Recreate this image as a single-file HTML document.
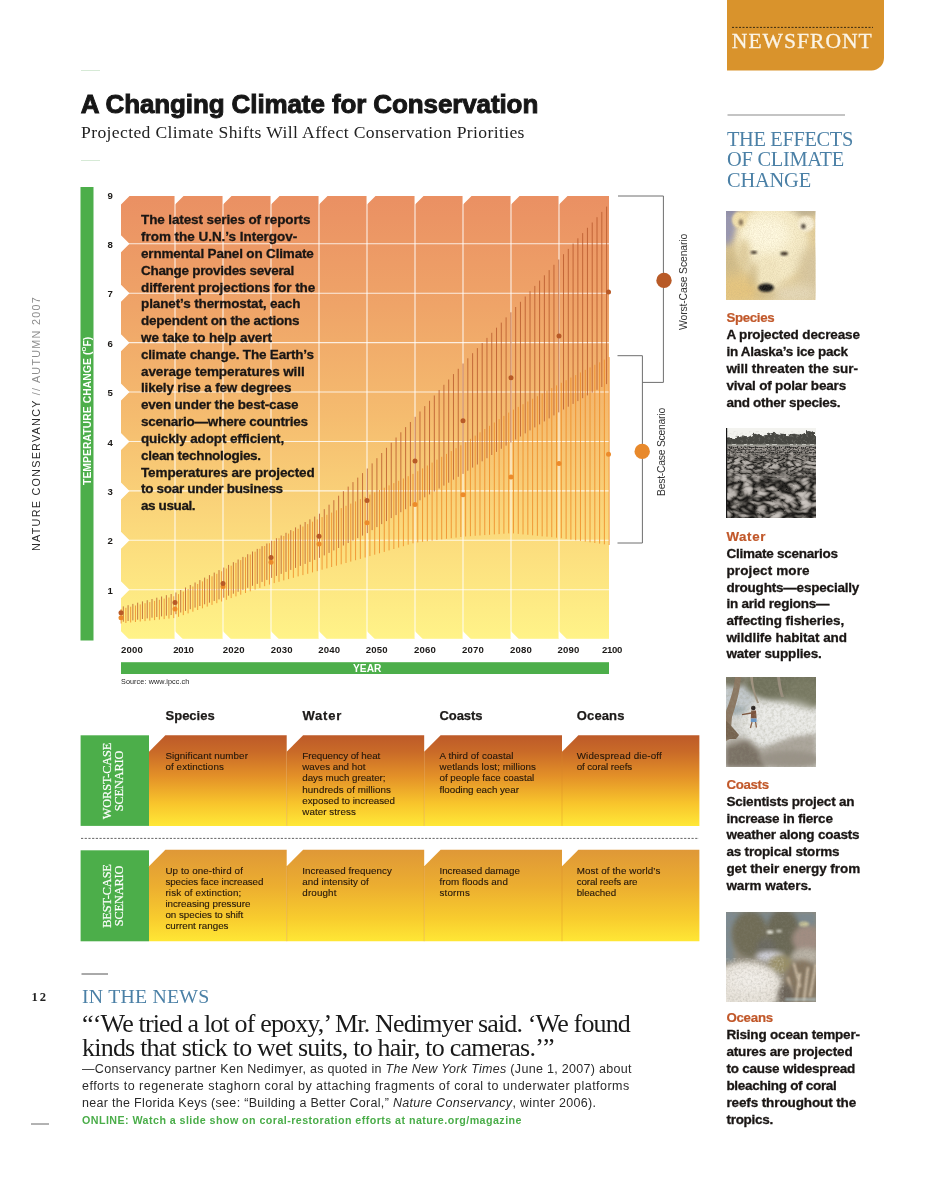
<!DOCTYPE html>
<html><head><meta charset="utf-8"><title>A Changing Climate for Conservation</title>
<style>
html,body{margin:0;padding:0;background:#fff;}
body{width:945px;height:1203px;position:relative;overflow:hidden;font-family:"Liberation Sans",sans-serif;}
.t{position:absolute;white-space:nowrap;line-height:1;margin:0;padding:0;}
.r{position:absolute;}
svg{position:absolute;left:0;top:0;}
</style></head><body>
<svg width="945" height="1203" viewBox="0 0 945 1203">
<defs>
<linearGradient id="cg" x1="0" y1="0" x2="0" y2="1">
<stop offset="0" stop-color="#ea9063"/><stop offset="0.25" stop-color="#efa468"/><stop offset="0.5" stop-color="#f5bc6f"/><stop offset="0.75" stop-color="#fbd97c"/><stop offset="1" stop-color="#fff388"/>
</linearGradient>
<linearGradient id="w1" x1="0" y1="0" x2="0" y2="1">
<stop offset="0" stop-color="#bd5a29"/><stop offset="0.18" stop-color="#c96a28"/><stop offset="0.45" stop-color="#e39028"/><stop offset="0.75" stop-color="#f8c42c"/><stop offset="1" stop-color="#ffe837"/>
</linearGradient>
<linearGradient id="b1" x1="0" y1="0" x2="0" y2="1">
<stop offset="0" stop-color="#df9837"/><stop offset="0.4" stop-color="#ecae30"/><stop offset="0.75" stop-color="#f8cc2e"/><stop offset="1" stop-color="#ffe735"/>
</linearGradient>
</defs>
<path d="M727 0H884V58A12.5 12.5 0 0 1 871.5 70.5H727Z" fill="#d9932c"/>
<line x1="732" y1="27.4" x2="873" y2="27.4" stroke="#3b2c12" stroke-width="1" stroke-dasharray="2 1.5"/>
<rect x="121.0" y="196.0" width="488.0" height="442.8" fill="url(#cg)"/>
<line x1="175.0" y1="196.0" x2="175.0" y2="638.8" stroke="#fff" stroke-opacity="0.85" stroke-width="1.1"/>
<line x1="223.0" y1="196.0" x2="223.0" y2="638.8" stroke="#fff" stroke-opacity="0.85" stroke-width="1.1"/>
<line x1="271.0" y1="196.0" x2="271.0" y2="638.8" stroke="#fff" stroke-opacity="0.85" stroke-width="1.1"/>
<line x1="319.0" y1="196.0" x2="319.0" y2="638.8" stroke="#fff" stroke-opacity="0.85" stroke-width="1.1"/>
<line x1="367.0" y1="196.0" x2="367.0" y2="638.8" stroke="#fff" stroke-opacity="0.85" stroke-width="1.1"/>
<line x1="415.0" y1="196.0" x2="415.0" y2="638.8" stroke="#fff" stroke-opacity="0.85" stroke-width="1.1"/>
<line x1="463.0" y1="196.0" x2="463.0" y2="638.8" stroke="#fff" stroke-opacity="0.85" stroke-width="1.1"/>
<line x1="511.0" y1="196.0" x2="511.0" y2="638.8" stroke="#fff" stroke-opacity="0.85" stroke-width="1.1"/>
<line x1="559.0" y1="196.0" x2="559.0" y2="638.8" stroke="#fff" stroke-opacity="0.85" stroke-width="1.1"/>
<line x1="121.0" y1="243.80" x2="609.0" y2="243.80" stroke="#fff" stroke-opacity="0.8" stroke-width="1.1"/>
<line x1="121.0" y1="293.22" x2="609.0" y2="293.22" stroke="#fff" stroke-opacity="0.8" stroke-width="1.1"/>
<line x1="121.0" y1="342.64" x2="609.0" y2="342.64" stroke="#fff" stroke-opacity="0.8" stroke-width="1.1"/>
<line x1="121.0" y1="392.06" x2="609.0" y2="392.06" stroke="#fff" stroke-opacity="0.8" stroke-width="1.1"/>
<line x1="121.0" y1="441.48" x2="609.0" y2="441.48" stroke="#fff" stroke-opacity="0.8" stroke-width="1.1"/>
<line x1="121.0" y1="490.90" x2="609.0" y2="490.90" stroke="#fff" stroke-opacity="0.8" stroke-width="1.1"/>
<line x1="121.0" y1="540.32" x2="609.0" y2="540.32" stroke="#fff" stroke-opacity="0.8" stroke-width="1.1"/>
<line x1="121.0" y1="589.74" x2="609.0" y2="589.74" stroke="#fff" stroke-opacity="0.8" stroke-width="1.1"/>
<path d="M121.0 195.5 h9.0 l-9.0 9.0zM175.0 195.5 h9.0 l-9.0 9.0zM223.0 195.5 h9.0 l-9.0 9.0zM271.0 195.5 h9.0 l-9.0 9.0zM319.0 195.5 h9.0 l-9.0 9.0zM367.0 195.5 h9.0 l-9.0 9.0zM415.0 195.5 h9.0 l-9.0 9.0zM463.0 195.5 h9.0 l-9.0 9.0zM511.0 195.5 h9.0 l-9.0 9.0zM559.0 195.5 h9.0 l-9.0 9.0zM121.0 639.3 h8.0 l-8.0 -8.0zM175.0 639.3 h8.0 l-8.0 -8.0zM223.0 639.3 h8.0 l-8.0 -8.0zM271.0 639.3 h8.0 l-8.0 -8.0zM319.0 639.3 h8.0 l-8.0 -8.0zM367.0 639.3 h8.0 l-8.0 -8.0zM415.0 639.3 h8.0 l-8.0 -8.0zM463.0 639.3 h8.0 l-8.0 -8.0zM511.0 639.3 h8.0 l-8.0 -8.0zM559.0 639.3 h8.0 l-8.0 -8.0zM120.5 234.80 v18.0 l9.0 -9.0 zM120.5 284.22 v18.0 l9.0 -9.0 zM120.5 333.64 v18.0 l9.0 -9.0 zM120.5 383.06 v18.0 l9.0 -9.0 zM120.5 432.48 v18.0 l9.0 -9.0 zM120.5 481.90 v18.0 l9.0 -9.0 zM120.5 531.32 v18.0 l9.0 -9.0 zM120.5 580.74 v18.0 l9.0 -9.0 z" fill="#fff"/>
<path d="M121.10 609.0V623.5M125.88 607.8V623.0M130.67 606.7V622.5M135.45 605.5V622.0M140.24 604.4V621.5M145.03 603.2V621.1M149.81 602.1V620.6M154.59 600.9V620.1M159.38 599.8V619.6M164.16 598.6V619.1M168.95 597.5V618.6M173.74 596.3V618.1M178.52 594.1V616.8M183.31 591.6V615.1M188.09 589.0V613.4M192.88 586.5V611.7M197.66 584.0V610.0M202.44 581.4V608.3M207.23 578.9V606.6M212.01 576.3V604.9M216.80 573.8V603.2M221.58 571.3V601.5M226.37 568.5V599.8M231.16 565.7V598.1M235.94 562.9V596.4M240.72 560.1V594.7M245.51 557.3V593.0M250.29 554.5V591.3M255.08 551.7V589.6M259.87 548.8V587.9M264.65 546.0V586.2M269.44 543.2V584.6M274.22 540.7V583.1M279.00 538.3V581.8M283.79 536.0V580.4M288.57 533.6V579.1M293.36 531.2V577.8M298.14 528.8V576.4M302.93 526.5V575.1M307.72 524.1V573.8M312.50 521.7V572.4M317.28 519.4V571.1M322.07 517.1V569.7M326.86 514.8V568.4M331.64 512.6V567.0M336.43 510.3V565.7M341.21 508.1V564.3M346.00 505.8V563.0M350.78 503.6V561.6M355.56 501.4V560.2M360.35 499.1V558.9M365.13 496.9V557.5M369.92 494.6V556.1M374.71 492.3V554.7M379.49 490.0V553.3M384.27 487.7V551.9M389.06 485.4V550.4M393.85 483.1V549.0M398.63 480.8V547.6M403.41 478.5V546.2M408.20 476.2V544.7M412.99 473.9V543.3M417.77 471.2V542.4M422.55 468.4V541.8M427.34 465.5V541.2M432.12 462.6V540.6M436.91 459.7V540.0M441.70 456.8V539.4M446.48 453.9V538.8M451.26 451.1V538.2M456.05 448.2V537.6M460.84 445.3V537.0M465.62 442.2V536.5M470.40 438.9V536.2M475.19 435.6V535.8M479.98 432.3V535.5M484.76 429.0V535.1M489.54 425.8V534.8M494.33 422.5V534.4M499.12 419.2V534.1M503.90 415.9V533.7M508.69 412.6V533.4M513.47 409.6V533.4M518.25 406.9V533.9M523.04 404.2V534.4M527.83 401.5V534.8M532.61 398.8V535.3M537.39 396.2V535.8M542.18 393.5V536.3M546.97 390.8V536.7M551.75 388.1V537.2M556.53 385.4V537.7M561.32 382.8V538.2M566.11 380.2V538.9M570.89 377.6V539.6M575.67 375.1V540.3M580.46 372.5V540.9M585.25 369.9V541.6M590.03 367.4V542.3M594.82 364.8V543.0M599.60 362.3V543.6M604.38 359.7V544.3M609.17 357.1V545.0" stroke="#ef8f2a" stroke-width="0.95" stroke-opacity="0.9" fill="none"/>
<path d="M123.30 606.4V621.7M128.09 605.2V621.0M132.87 603.9V620.4M137.66 602.7V619.7M142.44 601.4V619.0M147.22 600.2V618.4M152.01 599.0V617.7M156.80 597.7V617.0M161.58 596.5V616.4M166.37 595.2V615.7M171.15 594.0V615.0M175.94 592.5V614.2M180.72 590.0V612.5M185.50 587.5V610.9M190.29 585.0V609.2M195.07 582.5V607.6M199.86 580.1V606.0M204.64 577.6V604.3M209.43 575.1V602.7M214.22 572.6V601.0M219.00 570.1V599.4M223.78 567.6V597.7M228.57 564.9V595.7M233.36 562.2V593.7M238.14 559.5V591.8M242.93 556.9V589.8M247.71 554.2V587.8M252.50 551.5V585.8M257.28 548.9V583.9M262.06 546.2V581.9M266.85 543.5V579.9M271.63 540.8V577.9M276.42 538.2V575.9M281.20 535.5V573.9M285.99 532.8V571.9M290.77 530.1V569.9M295.56 527.4V567.9M300.35 524.7V565.9M305.13 522.0V563.9M309.92 519.3V561.9M314.70 516.6V559.9M319.49 513.7V557.8M324.27 509.2V555.4M329.06 504.7V552.9M333.84 500.2V550.4M338.62 495.7V548.0M343.41 491.2V545.5M348.19 486.6V543.0M352.98 482.1V540.5M357.76 477.6V538.1M362.55 473.1V535.6M367.33 468.5V533.1M372.12 463.4V530.1M376.91 458.2V527.1M381.69 453.0V524.1M386.48 447.8V521.1M391.26 442.7V518.1M396.05 437.5V515.1M400.83 432.3V512.2M405.62 427.1V509.2M410.40 422.0V506.2M415.19 416.8V503.2M419.97 411.5V500.3M424.75 406.1V497.3M429.54 400.8V494.4M434.33 395.5V491.5M439.11 390.1V488.5M443.90 384.8V485.6M448.68 379.5V482.7M453.47 374.1V479.7M458.25 368.8V476.8M463.04 363.5V473.9M467.82 358.3V470.7M472.61 353.2V467.6M477.39 348.1V464.5M482.18 343.0V461.3M486.96 337.9V458.2M491.75 332.8V455.0M496.53 327.7V451.9M501.31 322.6V448.8M506.10 317.4V445.6M510.89 312.3V442.5M515.67 307.0V439.5M520.46 301.8V436.5M525.24 296.5V433.4M530.02 291.2V430.4M534.81 285.9V427.4M539.60 280.6V424.4M544.38 275.3V421.4M549.16 270.1V418.4M553.95 264.8V415.4M558.74 259.5V412.4M563.52 254.2V409.5M568.30 248.9V406.7M573.09 243.6V403.9M577.88 238.3V401.1M582.66 233.1V398.2M587.45 227.8V395.4M592.23 222.5V392.6M597.01 217.2V389.8M601.80 211.9V387.0M606.59 206.6V384.1" stroke="#b6562a" stroke-width="0.85" stroke-opacity="0.92" fill="none"/>
<circle cx="121.0" cy="617.7" r="2.5" fill="#ec8b2b"/>
<circle cx="175.0" cy="609.0" r="2.5" fill="#ec8b2b"/>
<circle cx="223.0" cy="586.4" r="2.5" fill="#ec8b2b"/>
<circle cx="271.0" cy="562.3" r="2.5" fill="#ec8b2b"/>
<circle cx="319.0" cy="544.0" r="2.5" fill="#ec8b2b"/>
<circle cx="367.0" cy="522.8" r="2.5" fill="#ec8b2b"/>
<circle cx="415.0" cy="504.5" r="2.5" fill="#ec8b2b"/>
<circle cx="463.0" cy="494.8" r="2.5" fill="#ec8b2b"/>
<circle cx="511.0" cy="476.9" r="2.5" fill="#ec8b2b"/>
<circle cx="559.0" cy="463.4" r="2.5" fill="#ec8b2b"/>
<circle cx="608.5" cy="454.3" r="2.5" fill="#ec8b2b"/>
<circle cx="121.0" cy="612.8" r="2.5" fill="#b85a27"/>
<circle cx="175.0" cy="602.5" r="2.5" fill="#b85a27"/>
<circle cx="223.0" cy="583.6" r="2.5" fill="#b85a27"/>
<circle cx="271.0" cy="557.5" r="2.5" fill="#b85a27"/>
<circle cx="319.0" cy="536.3" r="2.5" fill="#b85a27"/>
<circle cx="367.0" cy="500.4" r="2.5" fill="#b85a27"/>
<circle cx="415.0" cy="461.0" r="2.5" fill="#b85a27"/>
<circle cx="463.0" cy="420.8" r="2.5" fill="#b85a27"/>
<circle cx="511.0" cy="377.7" r="2.5" fill="#b85a27"/>
<circle cx="559.0" cy="336.0" r="2.5" fill="#b85a27"/>
<circle cx="608.5" cy="292.0" r="2.5" fill="#b85a27"/>
<path d="M618 196H663.4V382.4H642.4M617.5 355.7H642.4V543H617.5" stroke="#6e6e6e" stroke-width="1" fill="none"/>
<circle cx="664" cy="280.4" r="7.7" fill="#b85a27"/>
<circle cx="642.2" cy="451.4" r="7.7" fill="#e8892b"/>
<rect x="80.5" y="187" width="13" height="453.5" fill="#4cae4a"/>
<rect x="121" y="662.2" width="488" height="11.8" fill="#4cae4a"/>
<rect x="80.6" y="735.3" width="68.4" height="90.6" fill="#4cae4a"/>
<rect x="80.6" y="850.3" width="68.4" height="91" fill="#4cae4a"/>
<path d="M149.0 751.7L165.4 735.3H286.7V825.9H149.0Z" fill="url(#w1)"/>
<path d="M286.7 751.7L303.1 735.3H424.2V825.9H286.7Z" fill="url(#w1)"/>
<path d="M424.2 751.7L440.6 735.3H562.0V825.9H424.2Z" fill="url(#w1)"/>
<path d="M562.0 751.7L578.4 735.3H699.4V825.9H562.0Z" fill="url(#w1)"/>
<line x1="286.7" y1="751.7" x2="286.7" y2="825.9" stroke="#d8862a" stroke-opacity="0.5" stroke-width="0.7"/>
<line x1="424.2" y1="751.7" x2="424.2" y2="825.9" stroke="#d8862a" stroke-opacity="0.5" stroke-width="0.7"/>
<line x1="562.0" y1="751.7" x2="562.0" y2="825.9" stroke="#d8862a" stroke-opacity="0.5" stroke-width="0.7"/>
<path d="M149.0 866.2L165.4 849.8H286.7V941.3H149.0Z" fill="url(#b1)"/>
<path d="M286.7 866.2L303.1 849.8H424.2V941.3H286.7Z" fill="url(#b1)"/>
<path d="M424.2 866.2L440.6 849.8H562.0V941.3H424.2Z" fill="url(#b1)"/>
<path d="M562.0 866.2L578.4 849.8H699.4V941.3H562.0Z" fill="url(#b1)"/>
<line x1="286.7" y1="866.2" x2="286.7" y2="941.3" stroke="#d8862a" stroke-opacity="0.5" stroke-width="0.7"/>
<line x1="424.2" y1="866.2" x2="424.2" y2="941.3" stroke="#d8862a" stroke-opacity="0.5" stroke-width="0.7"/>
<line x1="562.0" y1="866.2" x2="562.0" y2="941.3" stroke="#d8862a" stroke-opacity="0.5" stroke-width="0.7"/>
<line x1="81" y1="838.4" x2="699" y2="838.4" stroke="#555" stroke-width="0.9" stroke-dasharray="2.2 1.5"/>
<path d="M81 70.5H100M81 160.5H100" stroke="#d6ead6" stroke-width="1"/>
<path d="M81.5 974H108" stroke="#555" stroke-width="1"/>
<path d="M31 1124H49" stroke="#666" stroke-width="1"/>
<path d="M727.5 115H845" stroke="#8a8a8a" stroke-width="1.2"/>
</svg>
<div id="txt" style="position:absolute;left:0;top:0;width:945px;height:1203px;will-change:transform;">
<div class="t" id="nf" style="left:731.80px;top:30.51px;font-family:'Liberation Serif',serif;font-size:21.60px;color:#fbf4e6;letter-spacing:0.999px;-webkit-text-stroke:0.3px #fbf4e6;">NEWSFRONT</div>
<div class="t" id="title" style="left:80.70px;top:91.19px;font-family:'Liberation Sans',sans-serif;font-size:26.00px;color:#161616;font-weight:700;letter-spacing:-0.109px;-webkit-text-stroke:0.95px #161616;">A Changing Climate for Conservation</div>
<div class="t" id="sub" style="left:81.00px;top:124.16px;font-family:'Liberation Serif',serif;font-size:17.60px;color:#222;letter-spacing:0.367px;">Projected Climate Shifts Will Affect Conservation Priorities</div>
<div class="t" id="side" style="left:36.3px;top:550.8px;font-size:10.8px;letter-spacing:1.259px;color:#2a2a2a;transform-origin:0 0;transform:rotate(-90deg) translateY(-50%);">NATURE CONSERVANCY <span style="color:#8c8c8c">// AUTUMN 2007</span></div>
<div class="t" id="ytitle" style="left:88.1px;top:485.4px;font-size:10.3px;font-weight:700;letter-spacing:0.106px;color:#fff;transform-origin:0 0;transform:rotate(-90deg) translateY(-50%);">TEMPERATURE CHANGE (<span style="font-size:6.2px;position:relative;top:-4.6px;">O</span>F)</div>
<div class="t" style="left:107.50px;top:190.97px;font-family:'Liberation Sans',sans-serif;font-size:9.60px;color:#1c1a18;font-weight:700;">9</div>
<div class="t" style="left:107.50px;top:239.97px;font-family:'Liberation Sans',sans-serif;font-size:9.60px;color:#1c1a18;font-weight:700;">8</div>
<div class="t" style="left:107.50px;top:289.39px;font-family:'Liberation Sans',sans-serif;font-size:9.60px;color:#1c1a18;font-weight:700;">7</div>
<div class="t" style="left:107.50px;top:338.81px;font-family:'Liberation Sans',sans-serif;font-size:9.60px;color:#1c1a18;font-weight:700;">6</div>
<div class="t" style="left:107.50px;top:388.23px;font-family:'Liberation Sans',sans-serif;font-size:9.60px;color:#1c1a18;font-weight:700;">5</div>
<div class="t" style="left:107.50px;top:437.65px;font-family:'Liberation Sans',sans-serif;font-size:9.60px;color:#1c1a18;font-weight:700;">4</div>
<div class="t" style="left:107.50px;top:487.07px;font-family:'Liberation Sans',sans-serif;font-size:9.60px;color:#1c1a18;font-weight:700;">3</div>
<div class="t" style="left:107.50px;top:536.49px;font-family:'Liberation Sans',sans-serif;font-size:9.60px;color:#1c1a18;font-weight:700;">2</div>
<div class="t" style="left:107.50px;top:585.91px;font-family:'Liberation Sans',sans-serif;font-size:9.60px;color:#1c1a18;font-weight:700;">1</div>
<div class="t" style="left:121.00px;top:645.07px;font-family:'Liberation Sans',sans-serif;font-size:9.60px;color:#1c1a18;font-weight:700;letter-spacing:0.161px;">2000</div>
<div class="t" style="left:173.30px;top:645.07px;font-family:'Liberation Sans',sans-serif;font-size:9.60px;color:#1c1a18;font-weight:700;letter-spacing:-0.264px;">2010</div>
<div class="t" style="left:222.80px;top:645.07px;font-family:'Liberation Sans',sans-serif;font-size:9.60px;color:#1c1a18;font-weight:700;letter-spacing:0.161px;">2020</div>
<div class="t" style="left:270.70px;top:645.07px;font-family:'Liberation Sans',sans-serif;font-size:9.60px;color:#1c1a18;font-weight:700;letter-spacing:0.161px;">2030</div>
<div class="t" style="left:318.30px;top:645.07px;font-family:'Liberation Sans',sans-serif;font-size:9.60px;color:#1c1a18;font-weight:700;letter-spacing:0.161px;">2040</div>
<div class="t" style="left:365.70px;top:645.07px;font-family:'Liberation Sans',sans-serif;font-size:9.60px;color:#1c1a18;font-weight:700;letter-spacing:0.161px;">2050</div>
<div class="t" style="left:414.00px;top:645.07px;font-family:'Liberation Sans',sans-serif;font-size:9.60px;color:#1c1a18;font-weight:700;letter-spacing:0.161px;">2060</div>
<div class="t" style="left:462.00px;top:645.07px;font-family:'Liberation Sans',sans-serif;font-size:9.60px;color:#1c1a18;font-weight:700;letter-spacing:0.161px;">2070</div>
<div class="t" style="left:510.00px;top:645.07px;font-family:'Liberation Sans',sans-serif;font-size:9.60px;color:#1c1a18;font-weight:700;letter-spacing:0.161px;">2080</div>
<div class="t" style="left:557.40px;top:645.07px;font-family:'Liberation Sans',sans-serif;font-size:9.60px;color:#1c1a18;font-weight:700;letter-spacing:0.161px;">2090</div>
<div class="t" style="left:601.90px;top:645.07px;font-family:'Liberation Sans',sans-serif;font-size:9.60px;color:#1c1a18;font-weight:700;letter-spacing:-0.264px;">2100</div>
<div class="t" id="year" style="left:353.00px;top:664.07px;font-family:'Liberation Sans',sans-serif;font-size:10.20px;color:#fff;font-weight:700;letter-spacing:0.040px;">YEAR</div>
<div class="t" id="src" style="left:121.00px;top:678.11px;font-family:'Liberation Sans',sans-serif;font-size:7.20px;color:#222;letter-spacing:0.109px;">Source: www.ipcc.ch</div>
<div class="t" id="p0" style="left:141.00px;top:213.27px;font-family:'Liberation Sans',sans-serif;font-size:13.50px;color:#1a1614;font-weight:700;letter-spacing:-0.116px;-webkit-text-stroke:0.3px #1a1614;">The latest series of reports</div>
<div class="t" id="p1" style="left:141.00px;top:230.09px;font-family:'Liberation Sans',sans-serif;font-size:13.50px;color:#1a1614;font-weight:700;letter-spacing:-0.032px;-webkit-text-stroke:0.3px #1a1614;">from the U.N.’s Intergov-</div>
<div class="t" id="p2" style="left:141.00px;top:246.91px;font-family:'Liberation Sans',sans-serif;font-size:13.50px;color:#1a1614;font-weight:700;letter-spacing:-0.167px;-webkit-text-stroke:0.3px #1a1614;">ernmental Panel on Climate</div>
<div class="t" id="p3" style="left:141.00px;top:263.73px;font-family:'Liberation Sans',sans-serif;font-size:13.50px;color:#1a1614;font-weight:700;letter-spacing:-0.296px;-webkit-text-stroke:0.3px #1a1614;">Change provides several</div>
<div class="t" id="p4" style="left:141.00px;top:280.55px;font-family:'Liberation Sans',sans-serif;font-size:13.50px;color:#1a1614;font-weight:700;letter-spacing:-0.071px;-webkit-text-stroke:0.3px #1a1614;">different projections for the</div>
<div class="t" id="p5" style="left:141.00px;top:297.37px;font-family:'Liberation Sans',sans-serif;font-size:13.50px;color:#1a1614;font-weight:700;letter-spacing:-0.116px;-webkit-text-stroke:0.3px #1a1614;">planet’s thermostat, each</div>
<div class="t" id="p6" style="left:141.00px;top:314.19px;font-family:'Liberation Sans',sans-serif;font-size:13.50px;color:#1a1614;font-weight:700;letter-spacing:-0.217px;-webkit-text-stroke:0.3px #1a1614;">dependent on the actions</div>
<div class="t" id="p7" style="left:141.00px;top:331.01px;font-family:'Liberation Sans',sans-serif;font-size:13.50px;color:#1a1614;font-weight:700;letter-spacing:-0.095px;-webkit-text-stroke:0.3px #1a1614;">we take to help avert</div>
<div class="t" id="p8" style="left:141.00px;top:347.83px;font-family:'Liberation Sans',sans-serif;font-size:13.50px;color:#1a1614;font-weight:700;letter-spacing:-0.198px;-webkit-text-stroke:0.3px #1a1614;">climate change. The Earth’s</div>
<div class="t" id="p9" style="left:141.00px;top:364.65px;font-family:'Liberation Sans',sans-serif;font-size:13.50px;color:#1a1614;font-weight:700;letter-spacing:-0.089px;-webkit-text-stroke:0.3px #1a1614;">average temperatures will</div>
<div class="t" id="p10" style="left:141.00px;top:381.47px;font-family:'Liberation Sans',sans-serif;font-size:13.50px;color:#1a1614;font-weight:700;letter-spacing:-0.172px;-webkit-text-stroke:0.3px #1a1614;">likely rise a few degrees</div>
<div class="t" id="p11" style="left:141.00px;top:398.29px;font-family:'Liberation Sans',sans-serif;font-size:13.50px;color:#1a1614;font-weight:700;letter-spacing:-0.198px;-webkit-text-stroke:0.3px #1a1614;">even under the best-case</div>
<div class="t" id="p12" style="left:141.00px;top:415.11px;font-family:'Liberation Sans',sans-serif;font-size:13.50px;color:#1a1614;font-weight:700;letter-spacing:-0.240px;-webkit-text-stroke:0.3px #1a1614;">scenario—where countries</div>
<div class="t" id="p13" style="left:141.00px;top:431.93px;font-family:'Liberation Sans',sans-serif;font-size:13.50px;color:#1a1614;font-weight:700;letter-spacing:-0.132px;-webkit-text-stroke:0.3px #1a1614;">quickly adopt efficient,</div>
<div class="t" id="p14" style="left:141.00px;top:448.75px;font-family:'Liberation Sans',sans-serif;font-size:13.50px;color:#1a1614;font-weight:700;letter-spacing:-0.289px;-webkit-text-stroke:0.3px #1a1614;">clean technologies.</div>
<div class="t" id="p15" style="left:141.00px;top:465.57px;font-family:'Liberation Sans',sans-serif;font-size:13.50px;color:#1a1614;font-weight:700;letter-spacing:-0.124px;-webkit-text-stroke:0.3px #1a1614;">Temperatures are projected</div>
<div class="t" id="p16" style="left:141.00px;top:482.39px;font-family:'Liberation Sans',sans-serif;font-size:13.50px;color:#1a1614;font-weight:700;letter-spacing:-0.306px;-webkit-text-stroke:0.3px #1a1614;">to soar under business</div>
<div class="t" id="p17" style="left:141.00px;top:499.21px;font-family:'Liberation Sans',sans-serif;font-size:13.50px;color:#1a1614;font-weight:700;letter-spacing:-0.397px;-webkit-text-stroke:0.3px #1a1614;">as usual.</div>
<div class="t" id="wc" style="left:683.5px;top:329.5px;font-size:10.4px;color:#333;letter-spacing:-0.13px;transform-origin:0 0;transform:rotate(-90deg) translateY(-50%);">Worst-Case Scenario</div>
<div class="t" id="bc" style="left:662.3px;top:495.5px;font-size:10.4px;color:#333;letter-spacing:-0.25px;transform-origin:0 0;transform:rotate(-90deg) translateY(-50%);">Best-Case Scenario</div>
<div class="t" id="hSpecies" style="left:165.50px;top:708.50px;font-family:'Liberation Sans',sans-serif;font-size:13.00px;color:#1c1a18;font-weight:700;letter-spacing:0.008px;-webkit-text-stroke:0.25px #1c1a18;">Species</div>
<div class="t" id="hWater" style="left:302.40px;top:708.50px;font-family:'Liberation Sans',sans-serif;font-size:13.00px;color:#1c1a18;font-weight:700;letter-spacing:0.833px;-webkit-text-stroke:0.25px #1c1a18;">Water</div>
<div class="t" id="hCoasts" style="left:439.60px;top:708.50px;font-family:'Liberation Sans',sans-serif;font-size:13.00px;color:#1c1a18;font-weight:700;letter-spacing:-0.108px;-webkit-text-stroke:0.25px #1c1a18;">Coasts</div>
<div class="t" id="hOceans" style="left:576.80px;top:708.50px;font-family:'Liberation Sans',sans-serif;font-size:13.00px;color:#1c1a18;font-weight:700;letter-spacing:0.121px;-webkit-text-stroke:0.25px #1c1a18;">Oceans</div>
<div class="t" id="vb1" style="left:113.8px;top:781.0px;font-family:'Liberation Serif',serif;font-size:12.3px;line-height:11.6px;color:#fff;text-align:center;letter-spacing:-0.1px;-webkit-text-stroke:0.2px #fff;transform:translate(-50%,-50%) rotate(-90deg);">WORST-CASE<br>SCENARIO</div>
<div class="t" id="vb2" style="left:113.8px;top:896.0px;font-family:'Liberation Serif',serif;font-size:12.3px;line-height:11.6px;color:#fff;text-align:center;letter-spacing:-0.1px;-webkit-text-stroke:0.2px #fff;transform:translate(-50%,-50%) rotate(-90deg);">BEST-CASE<br>SCENARIO</div>
<div class="t" id="c000" style="left:165.40px;top:751.05px;font-family:'Liberation Sans',sans-serif;font-size:9.80px;color:#24160a;letter-spacing:0.080px;-webkit-text-stroke:0.12px #24160a;">Significant number</div>
<div class="t" id="c001" style="left:165.40px;top:762.10px;font-family:'Liberation Sans',sans-serif;font-size:9.80px;color:#24160a;letter-spacing:0.100px;-webkit-text-stroke:0.12px #24160a;">of extinctions</div>
<div class="t" id="c010" style="left:302.30px;top:751.05px;font-family:'Liberation Sans',sans-serif;font-size:9.80px;color:#24160a;letter-spacing:-0.064px;-webkit-text-stroke:0.12px #24160a;">Frequency of heat</div>
<div class="t" id="c011" style="left:302.30px;top:762.10px;font-family:'Liberation Sans',sans-serif;font-size:9.80px;color:#24160a;letter-spacing:-0.008px;-webkit-text-stroke:0.12px #24160a;">waves and hot</div>
<div class="t" id="c012" style="left:302.30px;top:773.10px;font-family:'Liberation Sans',sans-serif;font-size:9.80px;color:#24160a;letter-spacing:-0.038px;-webkit-text-stroke:0.12px #24160a;">days much greater;</div>
<div class="t" id="c013" style="left:302.30px;top:785.10px;font-family:'Liberation Sans',sans-serif;font-size:9.80px;color:#24160a;letter-spacing:0.082px;-webkit-text-stroke:0.12px #24160a;">hundreds of millions</div>
<div class="t" id="c014" style="left:302.30px;top:796.30px;font-family:'Liberation Sans',sans-serif;font-size:9.80px;color:#24160a;letter-spacing:-0.023px;-webkit-text-stroke:0.12px #24160a;">exposed to increased</div>
<div class="t" id="c015" style="left:302.30px;top:807.00px;font-family:'Liberation Sans',sans-serif;font-size:9.80px;color:#24160a;letter-spacing:0.065px;-webkit-text-stroke:0.12px #24160a;">water stress</div>
<div class="t" id="c020" style="left:439.50px;top:751.05px;font-family:'Liberation Sans',sans-serif;font-size:9.80px;color:#24160a;letter-spacing:0.092px;-webkit-text-stroke:0.12px #24160a;">A third of coastal</div>
<div class="t" id="c021" style="left:439.50px;top:762.10px;font-family:'Liberation Sans',sans-serif;font-size:9.80px;color:#24160a;letter-spacing:0.080px;-webkit-text-stroke:0.12px #24160a;">wetlands lost; millions</div>
<div class="t" id="c022" style="left:439.50px;top:773.10px;font-family:'Liberation Sans',sans-serif;font-size:9.80px;color:#24160a;letter-spacing:-0.025px;-webkit-text-stroke:0.12px #24160a;">of people face coastal</div>
<div class="t" id="c023" style="left:439.50px;top:785.10px;font-family:'Liberation Sans',sans-serif;font-size:9.80px;color:#24160a;letter-spacing:-0.038px;-webkit-text-stroke:0.12px #24160a;">flooding each year</div>
<div class="t" id="c030" style="left:576.70px;top:751.05px;font-family:'Liberation Sans',sans-serif;font-size:9.80px;color:#24160a;letter-spacing:0.179px;-webkit-text-stroke:0.12px #24160a;">Widespread die-off</div>
<div class="t" id="c031" style="left:576.70px;top:762.10px;font-family:'Liberation Sans',sans-serif;font-size:9.80px;color:#24160a;letter-spacing:-0.089px;-webkit-text-stroke:0.12px #24160a;">of coral reefs</div>
<div class="t" id="c100" style="left:165.40px;top:866.05px;font-family:'Liberation Sans',sans-serif;font-size:9.80px;color:#24160a;letter-spacing:0.104px;-webkit-text-stroke:0.12px #24160a;">Up to one-third of</div>
<div class="t" id="c101" style="left:165.40px;top:877.10px;font-family:'Liberation Sans',sans-serif;font-size:9.80px;color:#24160a;letter-spacing:-0.077px;-webkit-text-stroke:0.12px #24160a;">species face increased</div>
<div class="t" id="c102" style="left:165.40px;top:888.15px;font-family:'Liberation Sans',sans-serif;font-size:9.80px;color:#24160a;letter-spacing:0.164px;-webkit-text-stroke:0.12px #24160a;">risk of extinction;</div>
<div class="t" id="c103" style="left:165.40px;top:899.20px;font-family:'Liberation Sans',sans-serif;font-size:9.80px;color:#24160a;letter-spacing:-0.027px;-webkit-text-stroke:0.12px #24160a;">increasing pressure</div>
<div class="t" id="c104" style="left:165.40px;top:910.25px;font-family:'Liberation Sans',sans-serif;font-size:9.80px;color:#24160a;letter-spacing:-0.029px;-webkit-text-stroke:0.12px #24160a;">on species to shift</div>
<div class="t" id="c105" style="left:165.40px;top:921.30px;font-family:'Liberation Sans',sans-serif;font-size:9.80px;color:#24160a;letter-spacing:-0.006px;-webkit-text-stroke:0.12px #24160a;">current ranges</div>
<div class="t" id="c110" style="left:302.30px;top:866.05px;font-family:'Liberation Sans',sans-serif;font-size:9.80px;color:#24160a;letter-spacing:0.047px;-webkit-text-stroke:0.12px #24160a;">Increased frequency</div>
<div class="t" id="c111" style="left:302.30px;top:877.10px;font-family:'Liberation Sans',sans-serif;font-size:9.80px;color:#24160a;letter-spacing:0.042px;-webkit-text-stroke:0.12px #24160a;">and intensity of</div>
<div class="t" id="c112" style="left:302.30px;top:888.15px;font-family:'Liberation Sans',sans-serif;font-size:9.80px;color:#24160a;letter-spacing:0.152px;-webkit-text-stroke:0.12px #24160a;">drought</div>
<div class="t" id="c120" style="left:439.50px;top:866.05px;font-family:'Liberation Sans',sans-serif;font-size:9.80px;color:#24160a;letter-spacing:-0.055px;-webkit-text-stroke:0.12px #24160a;">Increased damage</div>
<div class="t" id="c121" style="left:439.50px;top:877.10px;font-family:'Liberation Sans',sans-serif;font-size:9.80px;color:#24160a;letter-spacing:0.057px;-webkit-text-stroke:0.12px #24160a;">from floods and</div>
<div class="t" id="c122" style="left:439.50px;top:888.15px;font-family:'Liberation Sans',sans-serif;font-size:9.80px;color:#24160a;letter-spacing:0.183px;-webkit-text-stroke:0.12px #24160a;">storms</div>
<div class="t" id="c130" style="left:576.70px;top:866.05px;font-family:'Liberation Sans',sans-serif;font-size:9.80px;color:#24160a;letter-spacing:0.120px;-webkit-text-stroke:0.12px #24160a;">Most of the world’s</div>
<div class="t" id="c131" style="left:576.70px;top:877.10px;font-family:'Liberation Sans',sans-serif;font-size:9.80px;color:#24160a;letter-spacing:-0.129px;-webkit-text-stroke:0.12px #24160a;">coral reefs are</div>
<div class="t" id="c132" style="left:576.70px;top:888.15px;font-family:'Liberation Sans',sans-serif;font-size:9.80px;color:#24160a;letter-spacing:-0.047px;-webkit-text-stroke:0.12px #24160a;">bleached</div>
<div class="t" id="pg" style="left:31.50px;top:991.35px;font-family:'Liberation Serif',serif;font-size:12.60px;color:#222;font-weight:700;letter-spacing:1.950px;">12</div>
<div class="t" id="itn" style="left:82.00px;top:987.12px;font-family:'Liberation Serif',serif;font-size:19.80px;color:#4b80a6;letter-spacing:0.226px;">IN THE NEWS</div>
<div class="t" id="q1" style="left:82.00px;top:1010.82px;font-family:'Liberation Serif',serif;font-size:26.00px;color:#1a1a1a;letter-spacing:-0.840px;">“‘We tried a lot of epoxy,’ Mr. Nedimyer said. ‘We found</div>
<div class="t" id="q2" style="left:82.00px;top:1034.92px;font-family:'Liberation Serif',serif;font-size:26.00px;color:#1a1a1a;letter-spacing:-0.779px;">kinds that stick to wet suits, to hair, to cameras.’”</div>
<div class="t" id="tb1" style="left:82.00px;top:1063.22px;font-size:12.50px;color:#2a2a2a;letter-spacing:0.301px;">—Conservancy partner Ken Nedimyer, as quoted in <i>The New York Times</i> (June 1, 2007) about</div>
<div class="t" id="tb2" style="left:82.00px;top:1080.12px;font-size:12.50px;color:#2a2a2a;letter-spacing:0.473px;">efforts to regenerate staghorn coral by attaching fragments of coral to underwater platforms</div>
<div class="t" id="tb3" style="left:82.00px;top:1096.82px;font-size:12.50px;color:#2a2a2a;letter-spacing:0.309px;">near the Florida Keys (see: “Building a Better Coral,” <i>Nature Conservancy</i>, winter 2006).</div>
<div class="t" id="online" style="left:82.00px;top:1115.34px;font-family:'Liberation Sans',sans-serif;font-size:10.70px;color:#4aad49;font-weight:700;letter-spacing:0.445px;">ONLINE: Watch a slide show on coral-restoration efforts at nature.org/magazine</div>
<div class="t" id="e1" style="left:727.00px;top:128.81px;font-family:'Liberation Serif',serif;font-size:20.40px;color:#4b80a6;letter-spacing:-0.344px;">THE EFFECTS</div>
<div class="t" id="e2" style="left:727.00px;top:149.31px;font-family:'Liberation Serif',serif;font-size:20.40px;color:#4b80a6;letter-spacing:-0.257px;">OF CLIMATE</div>
<div class="t" id="e3" style="left:727.00px;top:169.72px;font-family:'Liberation Serif',serif;font-size:20.40px;color:#4b80a6;letter-spacing:-0.166px;">CHANGE</div>
<div class="t" id="shSpecies" style="left:726.40px;top:311.24px;font-family:'Liberation Sans',sans-serif;font-size:13.30px;color:#c1582a;font-weight:700;letter-spacing:-0.325px;-webkit-text-stroke:0.2px #c1582a;">Species</div>
<div class="t" id="sSpecies0" style="left:726.40px;top:328.27px;font-family:'Liberation Sans',sans-serif;font-size:13.50px;color:#1a1614;font-weight:700;letter-spacing:-0.133px;-webkit-text-stroke:0.3px #1a1614;">A projected decrease</div>
<div class="t" id="sSpecies1" style="left:726.40px;top:345.17px;font-family:'Liberation Sans',sans-serif;font-size:13.50px;color:#1a1614;font-weight:700;letter-spacing:-0.259px;-webkit-text-stroke:0.3px #1a1614;">in Alaska’s ice pack</div>
<div class="t" id="sSpecies2" style="left:726.40px;top:362.07px;font-family:'Liberation Sans',sans-serif;font-size:13.50px;color:#1a1614;font-weight:700;letter-spacing:-0.024px;-webkit-text-stroke:0.3px #1a1614;">will threaten the sur-</div>
<div class="t" id="sSpecies3" style="left:726.40px;top:378.97px;font-family:'Liberation Sans',sans-serif;font-size:13.50px;color:#1a1614;font-weight:700;letter-spacing:-0.172px;-webkit-text-stroke:0.3px #1a1614;">vival of polar bears</div>
<div class="t" id="sSpecies4" style="left:726.40px;top:395.87px;font-family:'Liberation Sans',sans-serif;font-size:13.50px;color:#1a1614;font-weight:700;letter-spacing:-0.258px;-webkit-text-stroke:0.3px #1a1614;">and other species.</div>
<div class="t" id="shWater" style="left:726.40px;top:530.34px;font-family:'Liberation Sans',sans-serif;font-size:13.30px;color:#c1582a;font-weight:700;letter-spacing:0.628px;-webkit-text-stroke:0.2px #c1582a;">Water</div>
<div class="t" id="sWater0" style="left:726.40px;top:547.27px;font-family:'Liberation Sans',sans-serif;font-size:13.50px;color:#1a1614;font-weight:700;letter-spacing:-0.239px;-webkit-text-stroke:0.3px #1a1614;">Climate scenarios</div>
<div class="t" id="sWater1" style="left:726.40px;top:563.97px;font-family:'Liberation Sans',sans-serif;font-size:13.50px;color:#1a1614;font-weight:700;letter-spacing:0.127px;-webkit-text-stroke:0.3px #1a1614;">project more</div>
<div class="t" id="sWater2" style="left:726.40px;top:580.67px;font-family:'Liberation Sans',sans-serif;font-size:13.50px;color:#1a1614;font-weight:700;letter-spacing:-0.197px;-webkit-text-stroke:0.3px #1a1614;">droughts—especially</div>
<div class="t" id="sWater3" style="left:726.40px;top:597.37px;font-family:'Liberation Sans',sans-serif;font-size:13.50px;color:#1a1614;font-weight:700;letter-spacing:-0.226px;-webkit-text-stroke:0.3px #1a1614;">in arid regions—</div>
<div class="t" id="sWater4" style="left:726.40px;top:614.07px;font-family:'Liberation Sans',sans-serif;font-size:13.50px;color:#1a1614;font-weight:700;letter-spacing:-0.079px;-webkit-text-stroke:0.3px #1a1614;">affecting fisheries,</div>
<div class="t" id="sWater5" style="left:726.40px;top:630.77px;font-family:'Liberation Sans',sans-serif;font-size:13.50px;color:#1a1614;font-weight:700;letter-spacing:-0.045px;-webkit-text-stroke:0.3px #1a1614;">wildlife habitat and</div>
<div class="t" id="sWater6" style="left:726.40px;top:647.47px;font-family:'Liberation Sans',sans-serif;font-size:13.50px;color:#1a1614;font-weight:700;letter-spacing:-0.149px;-webkit-text-stroke:0.3px #1a1614;">water supplies.</div>
<div class="t" id="shCoasts" style="left:726.40px;top:778.44px;font-family:'Liberation Sans',sans-serif;font-size:13.30px;color:#c1582a;font-weight:700;letter-spacing:-0.341px;-webkit-text-stroke:0.2px #c1582a;">Coasts</div>
<div class="t" id="sCoasts0" style="left:726.40px;top:794.97px;font-family:'Liberation Sans',sans-serif;font-size:13.50px;color:#1a1614;font-weight:700;letter-spacing:-0.192px;-webkit-text-stroke:0.3px #1a1614;">Scientists project an</div>
<div class="t" id="sCoasts1" style="left:726.40px;top:811.73px;font-family:'Liberation Sans',sans-serif;font-size:13.50px;color:#1a1614;font-weight:700;letter-spacing:-0.223px;-webkit-text-stroke:0.3px #1a1614;">increase in fierce</div>
<div class="t" id="sCoasts2" style="left:726.40px;top:828.49px;font-family:'Liberation Sans',sans-serif;font-size:13.50px;color:#1a1614;font-weight:700;letter-spacing:-0.215px;-webkit-text-stroke:0.3px #1a1614;">weather along coasts</div>
<div class="t" id="sCoasts3" style="left:726.40px;top:845.25px;font-family:'Liberation Sans',sans-serif;font-size:13.50px;color:#1a1614;font-weight:700;letter-spacing:-0.183px;-webkit-text-stroke:0.3px #1a1614;">as tropical storms</div>
<div class="t" id="sCoasts4" style="left:726.40px;top:862.01px;font-family:'Liberation Sans',sans-serif;font-size:13.50px;color:#1a1614;font-weight:700;letter-spacing:-0.063px;-webkit-text-stroke:0.3px #1a1614;">get their energy from</div>
<div class="t" id="sCoasts5" style="left:726.40px;top:878.77px;font-family:'Liberation Sans',sans-serif;font-size:13.50px;color:#1a1614;font-weight:700;letter-spacing:-0.028px;-webkit-text-stroke:0.3px #1a1614;">warm waters.</div>
<div class="t" id="shOceans" style="left:726.40px;top:1011.24px;font-family:'Liberation Sans',sans-serif;font-size:13.30px;color:#c1582a;font-weight:700;letter-spacing:-0.259px;-webkit-text-stroke:0.2px #c1582a;">Oceans</div>
<div class="t" id="sOceans0" style="left:726.40px;top:1028.27px;font-family:'Liberation Sans',sans-serif;font-size:13.50px;color:#1a1614;font-weight:700;letter-spacing:-0.194px;-webkit-text-stroke:0.3px #1a1614;">Rising ocean temper-</div>
<div class="t" id="sOceans1" style="left:726.40px;top:1045.13px;font-family:'Liberation Sans',sans-serif;font-size:13.50px;color:#1a1614;font-weight:700;letter-spacing:-0.148px;-webkit-text-stroke:0.3px #1a1614;">atures are projected</div>
<div class="t" id="sOceans2" style="left:726.40px;top:1061.99px;font-family:'Liberation Sans',sans-serif;font-size:13.50px;color:#1a1614;font-weight:700;letter-spacing:-0.221px;-webkit-text-stroke:0.3px #1a1614;">to cause widespread</div>
<div class="t" id="sOceans3" style="left:726.40px;top:1078.85px;font-family:'Liberation Sans',sans-serif;font-size:13.50px;color:#1a1614;font-weight:700;letter-spacing:-0.301px;-webkit-text-stroke:0.3px #1a1614;">bleaching of coral</div>
<div class="t" id="sOceans4" style="left:726.40px;top:1095.71px;font-family:'Liberation Sans',sans-serif;font-size:13.50px;color:#1a1614;font-weight:700;letter-spacing:-0.115px;-webkit-text-stroke:0.3px #1a1614;">reefs throughout the</div>
<div class="t" id="sOceans5" style="left:726.40px;top:1112.57px;font-family:'Liberation Sans',sans-serif;font-size:13.50px;color:#1a1614;font-weight:700;letter-spacing:-0.257px;-webkit-text-stroke:0.3px #1a1614;">tropics.</div>
</div>
<svg style="left:726.0px;top:211.0px" width="89.5" height="89.0" viewBox="0 0 90 90" preserveAspectRatio="none">
<defs>
<filter id="pb1" x="-20%" y="-20%" width="140%" height="140%"><feGaussianBlur stdDeviation="1"/></filter>
<filter id="pb3" x="-30%" y="-30%" width="160%" height="160%"><feGaussianBlur stdDeviation="3"/></filter>
<filter id="pb6" x="-40%" y="-40%" width="180%" height="180%"><feGaussianBlur stdDeviation="6"/></filter>
<filter id="pbn" x="0" y="0" width="100%" height="100%"><feTurbulence type="fractalNoise" baseFrequency="0.9" numOctaves="2" seed="3"/><feColorMatrix type="matrix" values="0 0 0 0 0.45  0 0 0 0 0.36  0 0 0 0 0.2  0.9 0 0 0 -0.32"/></filter>
<clipPath id="pbc"><rect width="90" height="90"/></clipPath>
</defs>
<g clip-path="url(#pbc)">
<rect width="90" height="90" fill="#e4cf9c"/>
<ellipse cx="0" cy="10" rx="11" ry="27" fill="#9796b2" filter="url(#pb3)"/>
<ellipse cx="6" cy="-2" rx="10" ry="5" fill="#8a8aa6" filter="url(#pb3)"/>
<ellipse cx="72" cy="-3" rx="26" ry="9" fill="#bfb294" filter="url(#pb3)"/>
<ellipse cx="3" cy="56" rx="13" ry="20" fill="#d2bd8a" filter="url(#pb6)"/>
<ellipse cx="47" cy="33" rx="36" ry="40" fill="#f7ecc8" filter="url(#pb3)"/>
<ellipse cx="40" cy="24" rx="24" ry="19" fill="#fff9e0" filter="url(#pb6)"/>
<ellipse cx="18" cy="44" rx="6" ry="16" fill="#dcc794" filter="url(#pb3)" opacity="0.8"/>
<ellipse cx="87" cy="64" rx="15" ry="28" fill="#d9c8a0" filter="url(#pb6)"/>
<ellipse cx="68" cy="84" rx="26" ry="9" fill="#e6dabc" filter="url(#pb6)"/>
<ellipse cx="10" cy="80" rx="26" ry="15" fill="#e6c680" filter="url(#pb6)"/>
<ellipse cx="42" cy="64" rx="13" ry="18" fill="#f4e8c2" filter="url(#pb3)"/>
<ellipse cx="27" cy="64" rx="4.5" ry="13" fill="#cdb784" filter="url(#pb3)" opacity="0.75"/>
<ellipse cx="40" cy="84" rx="12" ry="4" fill="#cfb988" filter="url(#pb3)" opacity="0.8"/>
<ellipse cx="13.5" cy="9" rx="7.5" ry="8.5" fill="#f3e1ae" filter="url(#pb1)"/>
<ellipse cx="15" cy="11.5" rx="2.2" ry="3.2" fill="#8a775c" filter="url(#pb1)"/>
<ellipse cx="80.5" cy="13" rx="8.5" ry="8" fill="#f8efd6" filter="url(#pb1)"/>
<ellipse cx="77.8" cy="15.5" rx="2.2" ry="2.6" fill="#4a4038" filter="url(#pb1)"/>
<ellipse cx="28" cy="41.8" rx="3.2" ry="1.6" fill="#3c3026" filter="url(#pb1)"/>
<ellipse cx="58.5" cy="43" rx="3.8" ry="1.9" fill="#352a22" filter="url(#pb1)"/>
<ellipse cx="40.2" cy="77.6" rx="8" ry="4.3" fill="#171412" filter="url(#pb1)"/>
<rect width="90" height="90" filter="url(#pbn)" opacity="0.5"/>
</g>
</svg>
<svg style="left:726.0px;top:428.0px" width="90.0" height="90.0" viewBox="0 0 90 90" preserveAspectRatio="none">
<defs>
<filter id="d1" x="0" y="0" width="100%" height="100%" color-interpolation-filters="sRGB"><feTurbulence type="turbulence" baseFrequency="0.07 0.11" numOctaves="2" seed="7"/><feColorMatrix type="matrix" values="1 0 0 0 0  1 0 0 0 0  1 0 0 0 0  0 0 0 0 1"/><feComponentTransfer><feFuncR type="table" tableValues="0.07 0.17 0.34 0.54 0.68 0.76 0.8 0.8 0.8 0.8 0.8"/><feFuncG type="table" tableValues="0.07 0.16 0.33 0.52 0.66 0.74 0.78 0.78 0.78 0.78 0.78"/><feFuncB type="table" tableValues="0.06 0.15 0.31 0.5 0.64 0.72 0.76 0.76 0.76 0.76 0.76"/></feComponentTransfer></filter>
<filter id="d2" x="0" y="0" width="100%" height="100%" color-interpolation-filters="sRGB"><feTurbulence type="turbulence" baseFrequency="0.13 0.24" numOctaves="2" seed="11"/><feColorMatrix type="matrix" values="1 0 0 0 0  1 0 0 0 0  1 0 0 0 0  0 0 0 0 1"/><feComponentTransfer><feFuncR type="table" tableValues="0.1 0.19 0.35 0.5 0.62 0.7 0.72 0.72 0.72 0.72 0.72"/><feFuncG type="table" tableValues="0.1 0.18 0.34 0.48 0.6 0.68 0.7 0.7 0.7 0.7 0.7"/><feFuncB type="table" tableValues="0.09 0.17 0.32 0.46 0.58 0.66 0.68 0.68 0.68 0.68 0.68"/></feComponentTransfer></filter>
<filter id="d3" x="0" y="0" width="100%" height="100%" color-interpolation-filters="sRGB"><feTurbulence type="turbulence" baseFrequency="0.25 0.6" numOctaves="2" seed="5"/><feColorMatrix type="matrix" values="1 0 0 0 0  1 0 0 0 0  1 0 0 0 0  0 0 0 0 1"/><feComponentTransfer><feFuncR type="table" tableValues="0.18 0.27 0.4 0.52 0.6 0.64 0.66 0.66 0.66 0.66 0.66"/><feFuncG type="table" tableValues="0.18 0.26 0.39 0.5 0.58 0.62 0.64 0.64 0.64 0.64 0.64"/><feFuncB type="table" tableValues="0.17 0.25 0.37 0.48 0.56 0.6 0.62 0.62 0.62 0.62 0.62"/></feComponentTransfer></filter>
<filter id="dtn" x="0" y="0" width="100%" height="100%" color-interpolation-filters="sRGB"><feTurbulence type="fractalNoise" baseFrequency="0.4" numOctaves="2" seed="3"/><feColorMatrix type="matrix" values="0 0 0 0 0.75  0 0 0 0 0.75  0 0 0 0 0.72  2 0 0 0 -1.05"/></filter>
<filter id="d4" x="-5%" y="-30%" width="110%" height="160%"><feTurbulence type="fractalNoise" baseFrequency="0.25" numOctaves="2" seed="2" result="n"/><feDisplacementMap in="SourceGraphic" in2="n" scale="5"/><feGaussianBlur stdDeviation="0.5"/></filter>
<linearGradient id="dm1" x1="0" y1="0" x2="0" y2="1"><stop offset="0.42" stop-color="#fff" stop-opacity="0"/><stop offset="0.62" stop-color="#fff" stop-opacity="1"/></linearGradient>
<linearGradient id="dm2" x1="0" y1="0" x2="0" y2="1"><stop offset="0.24" stop-color="#fff" stop-opacity="0"/><stop offset="0.36" stop-color="#fff" stop-opacity="1"/></linearGradient>
<mask id="dk1"><rect width="90" height="90" fill="url(#dm1)"/></mask>
<mask id="dk2"><rect width="90" height="90" fill="url(#dm2)"/></mask>
<clipPath id="dc"><rect width="90" height="90"/></clipPath>
</defs>
<g clip-path="url(#dc)">
<rect width="90" height="90" fill="#f3f3ef"/>
<rect y="17" width="90" height="73" filter="url(#d3)"/>
<g mask="url(#dk2)"><rect y="17" width="90" height="73" filter="url(#d2)"/></g>
<g mask="url(#dk1)"><rect y="17" width="90" height="73" filter="url(#d1)"/></g>
<path d="M0 10 C4 8 6 11 10 10 S16 8 20 9 S26 5 30 6 S36 8 40 7 S46 4 50 5 S56 7 60 7 S66 5 70 6 S76 7 80 4 S86 6 90 4 V17H0Z" fill="#474743" filter="url(#d4)"/>
<rect y="3" width="90" height="14" filter="url(#dtn)" opacity="0.5"/>
<rect y="16.3" width="90" height="1.8" fill="#a6a69e" opacity="0.85"/>
<rect x="0" y="0" width="1.2" height="90" fill="#151515"/>
</g>
</svg>
<svg style="left:726.0px;top:677.0px" width="90.0" height="90.0" viewBox="0 0 90 90" preserveAspectRatio="none">
<defs>
<filter id="c1" x="-20%" y="-20%" width="140%" height="140%"><feGaussianBlur stdDeviation="0.7"/></filter>
<filter id="c3" x="-30%" y="-30%" width="160%" height="160%"><feGaussianBlur stdDeviation="2.5"/></filter>
<filter id="c6" x="-40%" y="-40%" width="180%" height="180%"><feGaussianBlur stdDeviation="5"/></filter>
<filter id="cn" x="0" y="0" width="100%" height="100%"><feTurbulence type="fractalNoise" baseFrequency="0.35" numOctaves="3" seed="9"/><feColorMatrix type="matrix" values="0 0 0 0 0.3  0 0 0 0 0.3  0 0 0 0 0.22  1.3 0 0 0 -0.5"/></filter>
<clipPath id="cc"><rect width="90" height="90"/></clipPath>
</defs>
<g clip-path="url(#cc)">
<rect width="90" height="90" fill="#d6d6d2"/>
<ellipse cx="12" cy="22" rx="16" ry="18" fill="#c3c9cc" filter="url(#c3)"/>
<ellipse cx="10" cy="33" rx="12" ry="3" fill="#98a6aa" filter="url(#c3)"/>
<ellipse cx="64" cy="5" rx="46" ry="21" fill="#71725c" filter="url(#c3)"/>
<ellipse cx="78" cy="18" rx="19" ry="16" fill="#787962" filter="url(#c3)"/>
<ellipse cx="8" cy="3" rx="14" ry="7" fill="#74725e" filter="url(#c3)"/>
<ellipse cx="56" cy="46" rx="40" ry="21" fill="#ecece9" filter="url(#c6)"/>
<ellipse cx="42" cy="56" rx="20" ry="10" fill="#e9e9e6" filter="url(#c3)"/>
<path d="M0 62 L12 60 L24 63 L34 72 L50 66 L66 60 L90 57 V90H0Z" fill="#aca69c" filter="url(#c3)"/>
<path d="M0 70 L20 64 L32 74 L40 90 H0Z" fill="#7a7165" filter="url(#c3)"/>
<ellipse cx="64" cy="82" rx="30" ry="8" fill="#9a9388" filter="url(#c3)"/>
<path d="M9 0 L15 0 C14 14 10 28 6 40 L4 62 L0 64 L0 34 C4 24 8 12 9 0Z" fill="#8b7762" filter="url(#c1)"/>
<path d="M0 44 C3 46 8 52 13 58 L10 62 L0 62Z" fill="#76634f" filter="url(#c1)"/>
<path d="M24 0 C25 8 27 16 31 26 L33 26 C29 16 27 8 27 0Z" fill="#a09380" filter="url(#c1)"/>
<path d="M51 0 L54 0 C55 8 56 14 58 20 L55 20 C53 14 52 8 51 0Z" fill="#9a8e7e" filter="url(#c1)"/>
<g filter="url(#c1)">
<circle cx="27.3" cy="31" r="2.3" fill="#241c1a"/>
<path d="M25.2 33.5 h4.8 l0.6 8 h-5.8z" fill="#7c533c"/>
<path d="M25.4 36 L16 37.6" stroke="#7c533c" stroke-width="1.3" fill="none"/>
<rect x="24.8" y="41.5" width="5.8" height="3.6" fill="#6b98c9"/>
<path d="M26 45 L24.4 51 M29.6 45 L30.4 50.5" stroke="#8a6048" stroke-width="1.3" fill="none"/>
</g>
<rect width="90" height="90" filter="url(#cn)" opacity="0.5"/>
</g>
</svg>
<svg style="left:726.0px;top:912.0px" width="90.0" height="90.0" viewBox="0 0 90 90" preserveAspectRatio="none">
<defs>
<filter id="o1" x="-20%" y="-20%" width="140%" height="140%"><feGaussianBlur stdDeviation="0.8"/></filter>
<filter id="o3" x="-30%" y="-30%" width="160%" height="160%"><feGaussianBlur stdDeviation="2.5"/></filter>
<filter id="o6" x="-40%" y="-40%" width="180%" height="180%"><feGaussianBlur stdDeviation="5"/></filter>
<filter id="on" x="0" y="0" width="100%" height="100%"><feTurbulence type="fractalNoise" baseFrequency="0.45" numOctaves="3" seed="4"/><feColorMatrix type="matrix" values="0 0 0 0 0.25  0 0 0 0 0.24  0 0 0 0 0.2  1.5 0 0 0 -0.6"/></filter>
<filter id="ow" x="0" y="0" width="100%" height="100%"><feTurbulence type="fractalNoise" baseFrequency="0.5" numOctaves="2" seed="8"/><feColorMatrix type="matrix" values="0 0 0 0 1  0 0 0 0 0.98  0 0 0 0 0.95  1.6 0 0 0 -0.62"/></filter>
<clipPath id="oc"><rect width="90" height="90"/></clipPath>
</defs>
<g clip-path="url(#oc)">
<rect width="90" height="90" fill="#918b7c"/>
<rect width="90" height="14" fill="#7b8990" filter="url(#o3)"/>
<rect x="-4" width="12" height="50" fill="#7e8b92" filter="url(#o3)"/>
<ellipse cx="24" cy="22" rx="18" ry="23" fill="#6f6c57" filter="url(#o3)"/>
<ellipse cx="57" cy="22" rx="17" ry="25" fill="#6a6755" filter="url(#o3)"/>
<ellipse cx="40" cy="36" rx="10" ry="10" fill="#6b6960" filter="url(#o3)"/>
<ellipse cx="80" cy="27" rx="14" ry="13" fill="#a18d82" filter="url(#o3)"/>
<ellipse cx="44" cy="20" rx="3.5" ry="2" fill="#d8d8cc" filter="url(#o1)"/>
<ellipse cx="53" cy="19" rx="3" ry="1.6" fill="#c8c8bc" filter="url(#o1)"/>
<ellipse cx="78" cy="12" rx="5" ry="2.5" fill="#c8c49a" filter="url(#o1)"/>
<ellipse cx="44" cy="44" rx="14" ry="5" fill="#d4d4de" filter="url(#o3)"/>
<ellipse cx="55" cy="52" rx="12" ry="9" fill="#9a9068" filter="url(#o3)"/>
<ellipse cx="80" cy="44" rx="14" ry="8" fill="#b9b2a6" filter="url(#o3)"/>
<ellipse cx="20" cy="75" rx="36" ry="25" fill="#e6e1d8" filter="url(#o3)"/>
<ellipse cx="24" cy="68" rx="22" ry="12" fill="#f0ece6" filter="url(#o6)"/>
<ellipse cx="76" cy="70" rx="17" ry="22" fill="#85745f" filter="url(#o3)"/>
<path d="M70 88 L74 62 M78 88 L82 56 M84 84 L90 52 M66 80 L62 66 M74 74 L68 52" stroke="#cbbba4" stroke-width="2.6" stroke-linecap="round" fill="none" filter="url(#o1)"/>
<ellipse cx="60" cy="82" rx="8" ry="10" fill="#6a6256" filter="url(#o3)"/>
<rect width="90" height="90" filter="url(#on)" opacity="0.4"/>
<g opacity="0.35"><rect x="0" y="46" width="58" height="44" filter="url(#ow)"/></g>
<rect x="59" y="86" width="31" height="3" fill="#b8ccd0" opacity="0.6" filter="url(#o1)"/>
</g>
</svg>
</body></html>
